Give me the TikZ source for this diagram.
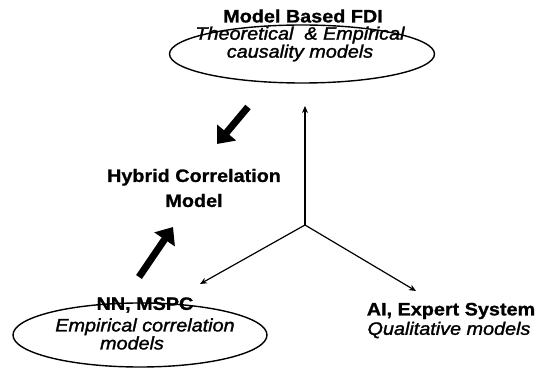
\documentclass[tikz,border=0pt]{standalone}
\usepackage{fontspec}
\setmainfont{Liberation Sans}[FakeStretch=1.1,
  BoldFeatures={FakeBold=1}, ItalicFeatures={FakeBold=1.5}]
\usetikzlibrary{arrows.meta,shapes.geometric}

\tikzset{
  title/.style={font=\fontsize{18}{18}\selectfont\bfseries, align=center, inner sep=0pt},
  models/.style={font=\fontsize{18}{18}\selectfont\itshape, align=center, inner sep=0pt},
  oval/.style={draw, ellipse, line width=1.4pt, inner sep=0pt},
  axis/.style={line width=1.2pt, -{Stealth[length=7pt,width=6pt]}},
  fat/.style={line width=7pt, -{Triangle[length=15pt,width=24pt]}}
}

\begin{document}
\begin{tikzpicture}[x=1pt,y=-1pt]
  \useasboundingbox (0,0) rectangle (541,371);
  % model based corner
  \node[title] (fditop) at (303,16) {Model Based FDI};
  \node[oval, minimum width=265pt, minimum height=58pt] (fdi) at (302,54) {};
  \node[models] (fditext) at (300,44) {Theoretical~ \& Empirical\\causality models};
  % data driven corner
  \node[title] (nntop) at (145,305) {NN, MSPC};
  \node[oval, minimum width=254pt, minimum height=64pt] (nn) at (140,335) {};
  \node[models] (nntext) at (145,334) {Empirical correlation\\models\hspace*{26pt}};
  % knowledge corner
  \node[title] (aitop) at (451,311) {AI, Expert System};
  \node[models] (aitext) at (449,330) {Qualitative models};
  % the hybrid in between
  \node[title] (hybrid) at (194,188) {Hybrid Correlation\\[7pt]Model};

  \coordinate (hub) at (305,225);
  \coordinate (up) at (305,106);
  \coordinate (down left) at (200,284);
  \coordinate (down right) at (416,291);
  \draw[axis] (hub) -- (up);
  \draw[axis] (hub) -- (down left);
  \draw[axis] (hub) -- (down right);

  \coordinate (from fdi) at (248,107);
  \coordinate (to hybrid top) at (217,144);
  \coordinate (from nn) at (139,277);
  \coordinate (to hybrid bottom) at (173,227);
  \draw[fat] (from fdi) -- (to hybrid top);
  \draw[fat] (from nn) -- (to hybrid bottom);
\end{tikzpicture}
\end{document}
